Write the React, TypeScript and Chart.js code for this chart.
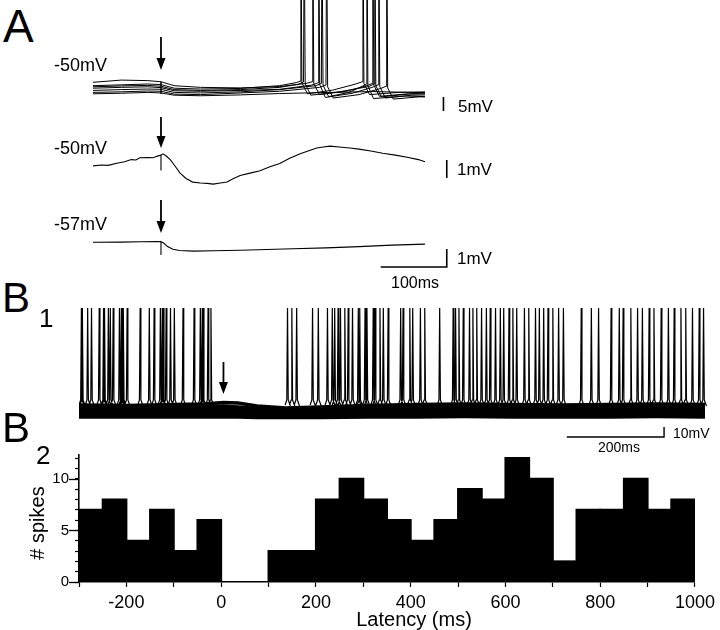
import React, { useEffect, useRef } from "react";
import { Chart, registerables } from "chart.js";

Chart.register(...registerables);

const FONT = "'Liberation Sans', Arial, Helvetica, sans-serif";

type P = [number, number];

// ---------------- Panel A : membrane traces (time in ms, voltage in mV) ----------------
// top: superimposed sweeps with spikes (peak values go beyond the frame)
const A1_SWEEP_1: P[] = [[-103,-48.6],[-60,-48.3],[-20,-48.0],[0,-48.2],[20,-49.5],[60,-49.8],[120,-49.6],[180,-48.6],[205,-47.5],[211,-47.0],[212,10],[213.5,-47.6],[222,-51.5],[260,-50.2],[295,-48.0],[305,-47.2],[306,10],[307.5,-47.8],[316,-51.8],[360,-51.0],[400,-50.8]];
const A1_SWEEP_2: P[] = [[-103,-47.4],[-60,-46.6],[-20,-46.8],[0,-47.2],[0,-51.5],[0,-47.2],[20,-48.6],[60,-49.2],[120,-49.4],[180,-48.9],[220,-47.8],[229,-47.2],[230,10],[231.5,-47.8],[240,-51.8],[280,-50.6],[312,-48.6],[320,-47.8],[321,10],[322.5,-48.4],[331,-52.4],[370,-51.6],[400,-51.2]];
const A1_SWEEP_3: P[] = [[-103,-49.5],[-60,-49.2],[-20,-49.0],[0,-49.3],[20,-50.4],[60,-50.6],[120,-50.3],[180,-49.9],[228,-48.4],[238,-47.6],[239,10],[240.5,-48.2],[249,-52.8],[290,-51.3],[320,-49.2],[329,-48.3],[330,10],[331.5,-48.9],[340,-53.0],[380,-52.0],[400,-51.9]];
const A1_SWEEP_4: P[] = [[-103,-50.3],[-60,-50.0],[-20,-49.8],[0,-49.9],[20,-51.0],[60,-51.2],[120,-50.8],[180,-50.0],[235,-48.6],[243,-47.8],[244,10],[245.5,-48.4],[254,-52.5],[285,-51.0],[305,-48.8],[311,-48.0],[312,10],[313.5,-48.6],[322,-53.2],[370,-52.3],[400,-52.5]];
const A1_SWEEP_5: P[] = [[-103,-51.0],[-60,-50.8],[-20,-50.5],[0,-50.6],[20,-51.6],[60,-51.8],[120,-51.2],[180,-50.6],[240,-49.2],[250,-48.4],[251,10],[252.5,-49.0],[261,-53.0],[300,-51.8],[333,-49.6],[341,-48.8],[342,10],[343.5,-49.4],[352,-53.4],[390,-52.6],[400,-52.6]];
const A1_SWEEP_6: P[] = [[-103,-49.0],[-60,-48.7],[-20,-48.5],[0,-48.8],[20,-50.0],[60,-50.3],[120,-50.0],[180,-49.2],[208,-48.1],[216,-47.3],[217,10],[218.5,-47.9],[227,-52.0],[270,-50.8],[315,-48.9],[323,-48.0],[324,10],[325.5,-48.6],[334,-52.6],[375,-51.6],[400,-51.5]];
const A1_SWEEP_7: P[] = [[-103,-51.5],[-60,-51.3],[-20,-51.0],[0,-51.2],[20,-52.0],[60,-52.2],[120,-51.9],[180,-51.4],[260,-51.0],[320,-50.7],[360,-50.9],[400,-51.1]];
const A1_SWEEPS = [A1_SWEEP_1, A1_SWEEP_2, A1_SWEEP_3, A1_SWEEP_4, A1_SWEEP_5, A1_SWEEP_6, A1_SWEEP_7];

// middle: averaged response at -50 mV
const A2_TRACE: P[] = [[-103,-50.05],[-90,-50.0],[-80,-50.02],[-67,-49.9],[-55,-49.82],[-45,-49.7],[-38,-49.72],[-32,-49.6],[-20,-49.58],[-12,-49.6],[-6,-49.52],[0,-49.45],[0,-50.3],[0,-49.45],[3,-49.38],[8,-49.5],[14,-49.7],[22,-50.1],[29,-50.45],[38,-50.75],[48,-50.95],[60,-51.0],[70,-51.02],[79,-51.06],[90,-51.0],[100,-50.95],[110,-50.75],[120,-50.58],[135,-50.45],[150,-50.32],[165,-50.1],[180,-49.92],[195,-49.62],[211,-49.38],[225,-49.2],[236,-49.06],[246,-49.0],[256,-48.95],[270,-49.0],[286,-49.06],[300,-49.12],[318,-49.22],[336,-49.35],[355,-49.45],[375,-49.58],[390,-49.7],[400,-49.82]];

// bottom: averaged response at -57 mV
const A3_TRACE: P[] = [[-103,-56.96],[-60,-56.95],[-30,-56.93],[-5,-56.92],[0,-56.93],[0,-57.67],[0,-56.93],[4,-57.0],[10,-57.2],[18,-57.35],[28,-57.42],[50,-57.45],[80,-57.43],[120,-57.4],[160,-57.36],[200,-57.32],[250,-57.27],[300,-57.2],[350,-57.12],[400,-57.06]];

// scale bars (ms, mV)
const A1_BAR: P[] = [[428,-52.64],[428,-57.64]];
const A2_BAR: P[] = [[433,-49.72],[433,-50.72]];
const A3_BAR: P[] = [[333,-58.33],[433,-58.33],[433,-57.33]];

// stimulus arrows: [time, top mV, tip mV]
const A1_ARROW: [number, number, number] = [0, -31.2, -43.0];
const A2_ARROW: [number, number, number] = [0, -47.33, -49.06];
const A3_ARROW: [number, number, number] = [0, -54.61, -56.44];

// ---------------- Panel B1 : superimposed sweeps with spikes ----------------
const B1_TIMES = [-300,-200,-100,-40,0,30,70,130,200,300,400,500,600,700,800,900,1000];
const B1_SWEEP_1 = [-54,-54.5,-53.5,-53,-51.5,-52,-55,-57,-56,-54.5,-53.5,-53,-53.5,-54,-53.5,-53,-53.5];
const B1_SWEEP_2 = [-56,-56,-55.5,-55.5,-55,-56,-57.5,-58.5,-57.5,-56,-55.5,-55,-55.5,-56,-55.5,-55,-55.5];
const B1_SWEEP_3 = [-58,-58,-57.5,-57.5,-57.5,-58,-59,-60,-59,-58,-57.5,-57,-57.5,-58,-57.5,-57,-57.5];
const B1_SWEEP_4 = [-60,-60,-59.5,-59.5,-59.5,-60,-61,-61.5,-61,-60,-59.5,-59,-59.5,-60,-59.5,-59,-59.5];
const B1_SWEEP_5 = [-62,-62,-61.5,-61.5,-61.5,-62,-62.5,-63,-62.5,-62,-61.5,-61,-61.5,-62,-61.5,-61,-61.5];
const B1_SWEEP_6 = [-64,-64,-63.5,-63.5,-63.5,-64,-64.5,-64.5,-64.5,-64,-63.5,-63,-63.5,-64,-63.5,-63,-63.5];
const B1_SWEEP_7 = [-66,-66,-66,-66,-66,-66,-66.5,-66.5,-66.5,-66,-66,-65.5,-66,-66,-66,-65.5,-66];
const B1_SWEEPS = [B1_SWEEP_1, B1_SWEEP_2, B1_SWEEP_3, B1_SWEEP_4, B1_SWEEP_5, B1_SWEEP_6, B1_SWEEP_7];

const B1_SPIKE_TIMES = [
  -295,-293,-282,-274,-258,-249,-247,-239,-235,-229,-216,-212,-210,-208,-200,-173,-154,-144,-131,-127,-125,-119,-110,-102,-84,-61,-48,-44,-42,-32,-26,
  133,142,152,185,197,216,226,231,238,243,252,259,268,280,283,294,298,311,315,325,332,342,368,373,387,393,409,418,449,477,482,489,498,
  511,518,526,536,546,554,565,575,582,593,601,609,625,634,648,656,665,674,684,696,706,743,764,779,805,822,830,846,860,870,884,894,909,924,936,950,960,974,988,997,
];
const B1_SPIKE_BASE = -54; // mV
const B1_SPIKE_FOOT = -49; // mV
const B1_SPIKE_PEAK = 43; // mV
const B1_BAR: P[] = [[713,-86],[915,-86],[915,-76]];
const B1_ARROW: [number, number, number] = [0, -11, -43];

// ---------------- Panel B2 : histogram ----------------
const BIN_WIDTH = 50; // ms
const BIN_STARTS = [-300,-250,-200,-150,-100,-50,0,50,100,150,200,250,300,350,400,450,500,550,600,650,700,750,800,850,900,950];
const SPIKE_COUNTS = [7,8,4,7,3,6,0,0,3,3,8,10,8,6,4,6,9,8,12,10,2,7,7,10,7,8];
const Y_LABELED_TICKS = [0, 5, 10];
const X_LABEL_STEP = 200;

// ---------------- helpers ----------------
const toXY = (pts: P[]) => pts.map(([x, y]) => ({ x, y }));

function arrowPlugin(arrows: [number, number, number][]) {
  return {
    id: "stimArrows",
    afterDatasetsDraw(chart: any) {
      const { ctx, scales } = chart;
      ctx.save();
      ctx.fillStyle = "#000";
      ctx.strokeStyle = "#000";
      ctx.lineWidth = 1.8;
      for (const [t, top, tip] of arrows) {
        const x = scales.x.getPixelForValue(t);
        const y0 = scales.y.getPixelForValue(top);
        const y1 = scales.y.getPixelForValue(tip);
        const head = 12;
        const hw = 4.5;
        ctx.beginPath();
        ctx.moveTo(x, y0);
        ctx.lineTo(x, y1 - head + 1);
        ctx.stroke();
        ctx.beginPath();
        ctx.moveTo(x - hw, y1 - head);
        ctx.lineTo(x + hw, y1 - head);
        ctx.lineTo(x, y1);
        ctx.closePath();
        ctx.fill();
      }
      ctx.restore();
    },
  };
}

type Line = { pts: { x: number; y: number | null }[]; w: number };

function traceConfig(xMin: number, xMax: number, yMin: number, yMax: number, lines: Line[], arrows: [number, number, number][]) {
  return {
    type: "line",
    data: {
      datasets: lines.map((l) => ({
        data: l.pts,
        borderColor: "#000",
        borderWidth: l.w,
        pointRadius: 0,
        tension: 0,
        spanGaps: false,
        fill: false,
      })),
    },
    options: {
      responsive: false,
      animation: false,
      events: [],
      layout: { padding: 0 },
      plugins: { legend: { display: false }, tooltip: { enabled: false } },
      scales: {
        x: { type: "linear", display: false, min: xMin, max: xMax },
        y: { type: "linear", display: false, min: yMin, max: yMax },
      },
    },
    plugins: [arrowPlugin(arrows)],
  };
}

function ChartCanvas({ left, top, width, height, make }: { left: number; top: number; width: number; height: number; make: () => any }) {
  const ref = useRef<HTMLCanvasElement | null>(null);
  useEffect(() => {
    if (!ref.current) return;
    const chart = new Chart(ref.current, make());
    return () => chart.destroy();
  }, []);
  return (
    <canvas
      ref={ref}
      width={width}
      height={height}
      style={{ position: "absolute", left, top, width, height }}
    />
  );
}

function Txt({ x, cy, size, children }: { x: number; cy: number; size: number; children: React.ReactNode }) {
  return (
    <div
      style={{
        position: "absolute",
        left: x,
        top: cy - 0.49 * size,
        fontSize: size,
        lineHeight: `${size}px`,
        whiteSpace: "nowrap",
        color: "#000",
      }}
    >
      {children}
    </div>
  );
}

// ---------------- layout constants ----------------
const A_LEFT = 93;
const A_WIDTH = 367;
const A_XMIN = -103;
const A_PX_PER_MS = 0.66;
const A_XMAX = A_XMIN + A_WIDTH / A_PX_PER_MS;

const A1_TOP = 0, A1_H = 115, A1_PX_PER_MV = 2.8, A1_YMAX = -18;
const A2_TOP = 112, A2_H = 85, A2_PX_PER_MV = 18, A2_YMAX = -47.056;
const A3_TOP = 195, A3_H = 85, A3_PX_PER_MV = 18, A3_YMAX = -54.333;

const B_LEFT = 79;
const B_PX_PER_MS = 626 / 1300;
const B1_TOP = 300, B1_H = 140, B1_W = 640, B1_YMAX = 51;

function makeA1() {
  const lines: Line[] = A1_SWEEPS.map((s) => ({ pts: toXY(s), w: 1 }));
  lines.push({ pts: toXY(A1_BAR), w: 1.6 });
  return traceConfig(A_XMIN, A_XMAX, A1_YMAX - A1_H / A1_PX_PER_MV, A1_YMAX, lines, [A1_ARROW]);
}
function makeA2() {
  const lines: Line[] = [{ pts: toXY(A2_TRACE), w: 1.1 }, { pts: toXY(A2_BAR), w: 1.6 }];
  return traceConfig(A_XMIN, A_XMAX, A2_YMAX - A2_H / A2_PX_PER_MV, A2_YMAX, lines, [A2_ARROW]);
}
function makeA3() {
  const lines: Line[] = [{ pts: toXY(A3_TRACE), w: 1.1 }, { pts: toXY(A3_BAR), w: 1.6 }];
  return traceConfig(A_XMIN, A_XMAX, A3_YMAX - A3_H / A3_PX_PER_MV, A3_YMAX, lines, [A3_ARROW]);
}
function makeB1() {
  const lines: Line[] = B1_SWEEPS.map((s) => ({
    pts: B1_TIMES.map((t, i) => ({ x: t, y: s[i] })),
    w: 3.4,
  }));
  const spikes: { x: number; y: number | null }[] = [];
  for (const t of B1_SPIKE_TIMES) {
    spikes.push(
      { x: t - 5, y: B1_SPIKE_BASE },
      { x: t - 1.5, y: B1_SPIKE_FOOT },
      { x: t, y: B1_SPIKE_PEAK },
      { x: t + 1.5, y: B1_SPIKE_FOOT },
      { x: t + 6, y: B1_SPIKE_BASE - 1 },
      { x: t + 6.5, y: null },
    );
  }
  lines.push({ pts: spikes, w: 1.2 });
  lines.push({ pts: toXY(B1_BAR), w: 1.4 });
  const xMax = -300 + B1_W / B_PX_PER_MS;
  return traceConfig(-300, xMax, B1_YMAX - B1_H, B1_YMAX, lines, [B1_ARROW]);
}

const majorTickPlugin = {
  id: "majorTicks",
  afterDraw(chart: any) {
    const { ctx, chartArea } = chart;
    const y = chart.scales.y;
    ctx.save();
    ctx.strokeStyle = "#000";
    ctx.lineWidth = 1.3;
    for (const v of Y_LABELED_TICKS) {
      const py = Math.round(y.getPixelForValue(v)) + 0.5;
      ctx.beginPath();
      ctx.moveTo(chartArea.left - 10, py);
      ctx.lineTo(chartArea.left, py);
      ctx.stroke();
    }
    ctx.restore();
  },
};

function makeHist() {
  return {
    type: "bar",
    data: {
      datasets: [
        {
          data: BIN_STARTS.map((s, i) => ({ x: s + BIN_WIDTH / 2, y: SPIKE_COUNTS[i] })),
          backgroundColor: "#000",
          borderWidth: 0,
          inflateAmount: 1,
          barPercentage: 1,
          categoryPercentage: 1,
        },
      ],
    },
    options: {
      responsive: false,
      animation: false,
      events: [],
      layout: { padding: { top: 12, right: 15, left: 0, bottom: 0 } },
      plugins: { legend: { display: false }, tooltip: { enabled: false } },
      scales: {
        x: {
          type: "linear",
          min: -300,
          max: 1000,
          offset: false,
          ticks: {
            stepSize: 100,
            autoSkip: false,
            maxRotation: 0,
            includeBounds: false,
            color: "#000",
            padding: 5,
            font: { family: FONT, size: 18 },
            callback: (v: number) => (v % X_LABEL_STEP === 0 ? String(v) : ""),
          },
          grid: { offset: false, drawOnChartArea: false, drawTicks: true, tickLength: 5, tickColor: "#000", tickWidth: 1.2 },
          border: { display: true, color: "#000", width: 1.6 },
          afterFit: (s: any) => {
            s.height = 48;
          },
        },
        y: {
          type: "linear",
          min: 0,
          max: 12.3,
          ticks: {
            stepSize: 1,
            autoSkip: false,
            includeBounds: false,
            color: "#000",
            padding: 6,
            font: { family: FONT, size: 15 },
            callback: (v: number) => (Y_LABELED_TICKS.includes(v) ? String(v) : ""),
          },
          grid: { drawOnChartArea: false, drawTicks: true, tickLength: 4, tickColor: "#000", tickWidth: 1.2 },
          border: { display: true, color: "#000", width: 1.6 },
          afterFit: (s: any) => {
            s.width = B_LEFT;
          },
        },
      },
    },
    plugins: [majorTickPlugin],
  };
}

export default function App() {
  return (
    <div
      style={{
        position: "fixed",
        left: 0,
        top: 0,
        width: 720,
        height: 630,
        background: "#fff",
        overflow: "hidden",
        fontFamily: FONT,
      }}
    >
      <ChartCanvas left={A_LEFT} top={A1_TOP} width={A_WIDTH} height={A1_H} make={makeA1} />
      <ChartCanvas left={A_LEFT} top={A2_TOP} width={A_WIDTH} height={A2_H} make={makeA2} />
      <ChartCanvas left={A_LEFT} top={A3_TOP} width={A_WIDTH} height={A3_H} make={makeA3} />
      <ChartCanvas left={B_LEFT} top={B1_TOP} width={B1_W} height={B1_H} make={makeB1} />
      <ChartCanvas left={0} top={440} width={720} height={190} make={makeHist} />

      <Txt x={3} cy={26} size={46}>A</Txt>
      <Txt x={54} cy={65} size={18}>-50mV</Txt>
      <Txt x={54} cy={147.5} size={18}>-50mV</Txt>
      <Txt x={54} cy={224} size={18}>-57mV</Txt>
      <Txt x={458} cy={106} size={17}>5mV</Txt>
      <Txt x={457} cy={169} size={17}>1mV</Txt>
      <Txt x={457} cy={258} size={17}>1mV</Txt>
      <Txt x={391} cy={282.5} size={16}>100ms</Txt>

      <Txt x={2} cy={297.5} size={42}>B</Txt>
      <Txt x={39} cy={317.5} size={26}>1</Txt>
      <Txt x={2} cy={428} size={42}>B</Txt>
      <Txt x={36} cy={455} size={26}>2</Txt>
      <Txt x={673} cy={433} size={14}>10mV</Txt>
      <Txt x={598} cy={447} size={14}>200ms</Txt>

      <div
        style={{
          position: "absolute",
          left: 414,
          top: 619 - 0.49 * 20,
          fontSize: 20,
          lineHeight: "20px",
          whiteSpace: "nowrap",
          transform: "translateX(-50%)",
        }}
      >
        Latency (ms)
      </div>
      <div
        style={{
          position: "absolute",
          left: 37,
          top: 523,
          fontSize: 20,
          lineHeight: "20px",
          whiteSpace: "nowrap",
          transform: "translate(-50%, -50%) rotate(-90deg)",
        }}
      >
        # spikes
      </div>
    </div>
  );
}
